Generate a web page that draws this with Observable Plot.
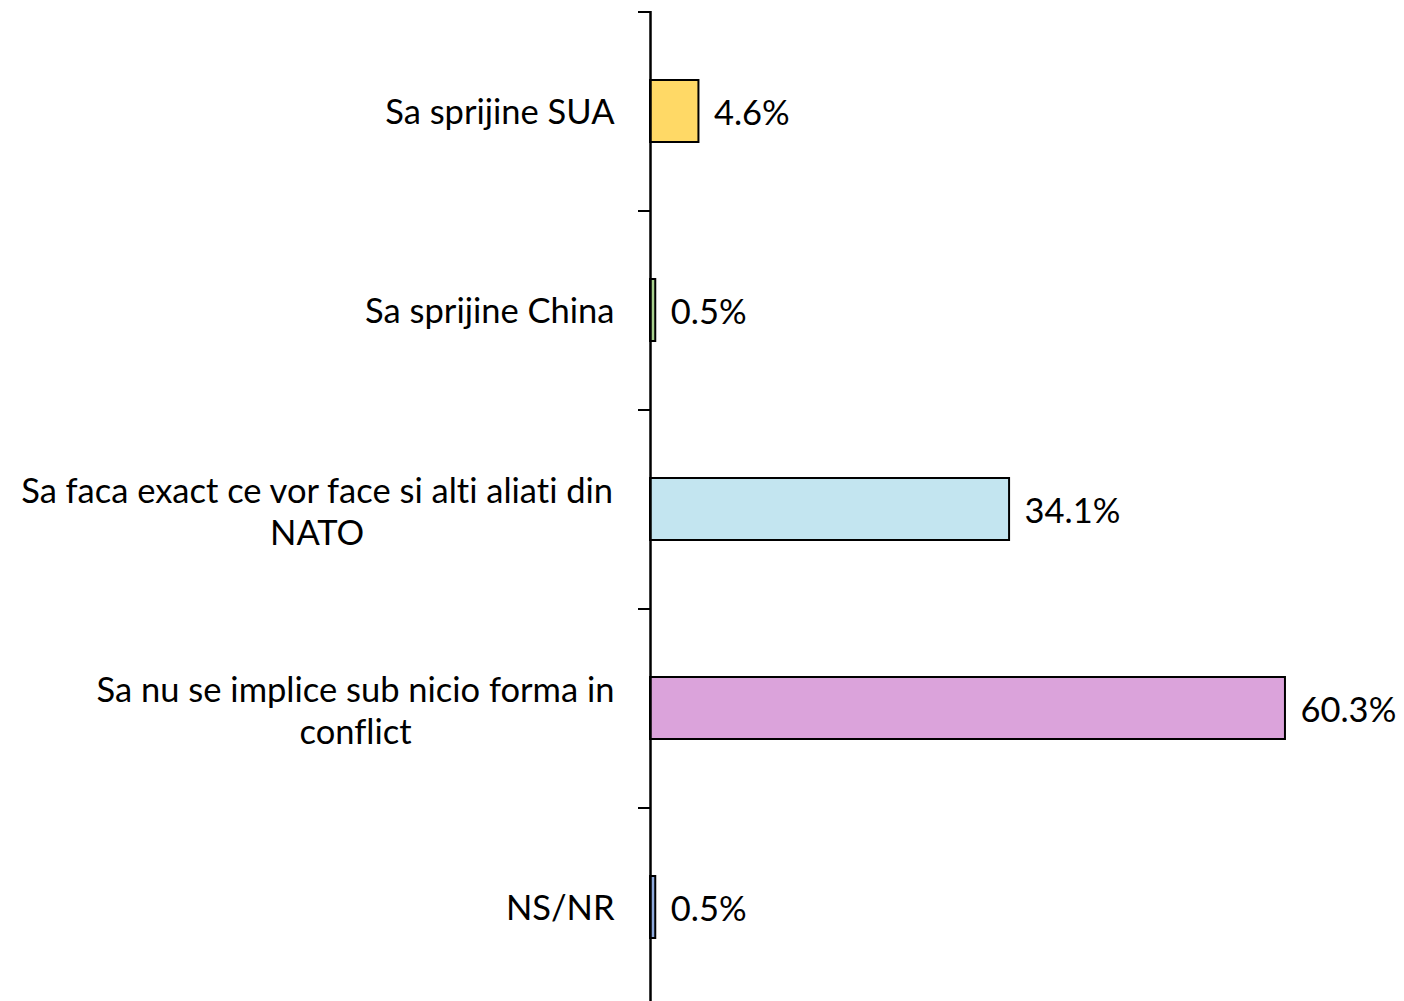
<!DOCTYPE html>
<html>
<head>
<meta charset="utf-8">
<script src="https://cdn.jsdelivr.net/npm/d3@7"></script>
<script src="https://cdn.jsdelivr.net/npm/@observablehq/plot@0.6"></script>
<style>
  html, body { margin: 0; padding: 0; background: #fff; }
  #chart svg { display: block; overflow: visible; font-variant-ligatures: none; }
  #chart svg text { font-variant-ligatures: none; font-feature-settings: "liga" 0, "clig" 0; }
</style>
</head>
<body>
<div id="chart"></div>
<script>
// ---- data ----
const categories = [
  "Sa sprijine SUA",
  "Sa sprijine China",
  "Sa faca exact ce vor face si alti aliati din\nNATO",
  "Sa nu se implice sub nicio forma in\nconflict",
  "NS/NR"
];
const values = [4.6, 0.5, 34.1, 60.3, 0.5];
const valueLabels = ["4.6%", "0.5%", "34.1%", "60.3%", "0.5%"];
const colors = ["#FFD966", "#A9D18E", "#C3E5F0", "#DBA3DB", "#8FAADC"];

const data = categories.map((c, i) => ({cat: c, value: values[i], label: valueLabels[i], color: colors[i]}));

// ---- layout ----
const W = 1404, H = 1001;
const FONT = "Lato";
const FS = 34.5;
const x0 = 650;          // pixel of zero
const pxPerUnit = 10.53; // pixels per percent
const yRange = [11, 1006];
const step = (yRange[1] - yRange[0]) / categories.length;
const labelGap = 36;     // gap between axis and category labels

const canvas = document.createElement("canvas");
const ctx = canvas.getContext("2d");
ctx.font = `${FS}px ${FONT}`;
const lineWidth = s => Math.max(...s.split("\n").map(l => ctx.measureText(l).width));

const single = data.filter(d => !d.cat.includes("\n"));
const multi = data.filter(d => d.cat.includes("\n"));

const chart = Plot.plot({
  width: W,
  height: H,
  marginTop: 11,
  marginBottom: 0,
  marginLeft: x0,
  marginRight: 0,
  style: {fontFamily: FONT, fontSize: FS + "px", background: "#fff", color: "#000"},
  x: {domain: [0, (W - x0) / pxPerUnit], range: [x0, W], axis: null},
  y: {type: "band", domain: categories, range: yRange, paddingInner: 0.69, paddingOuter: 0.345, axis: null},
  marks: [
    Plot.barX(data, {x: "value", y: "cat", fill: "color", stroke: "#000", strokeWidth: 2}),
    Plot.ruleX([0], {stroke: "#000", strokeWidth: 2.5}),
    Plot.ruleY(categories, {y: d => d, x1: -12 / pxPerUnit, x2: 0, dy: -step / 2, stroke: "#000", strokeWidth: 2}),
    Plot.text(data, {x: "value", y: "cat", text: "label", textAnchor: "start", dx: 15, dy: 2, fill: "#000", fontSize: FS}),
    Plot.text(single, {x: 0, y: "cat", text: "cat", textAnchor: "end", dx: -labelGap, dy: 1, fill: "#000", fontSize: FS}),
    Plot.text(multi, {x: 0, y: "cat", text: "cat", textAnchor: "middle", fill: "#000", fontSize: FS, lineHeight: 1.22,
      render(index, scales, values, dims, context, next) {
        const g = next(index, scales, values, dims, context);
        d3.select(g).selectAll("text").each(function(_, k) {
          const d = multi[index[k]];
          const w = lineWidth(d.cat);
          const t = d3.select(this);
          const tr = t.attr("transform") || "";
          t.attr("transform", tr + ` translate(${-(labelGap + w / 2)},1)`);
        });
        return g;
      }
    })
  ]
});
document.getElementById("chart").appendChild(chart);
</script>
</body>
</html>
